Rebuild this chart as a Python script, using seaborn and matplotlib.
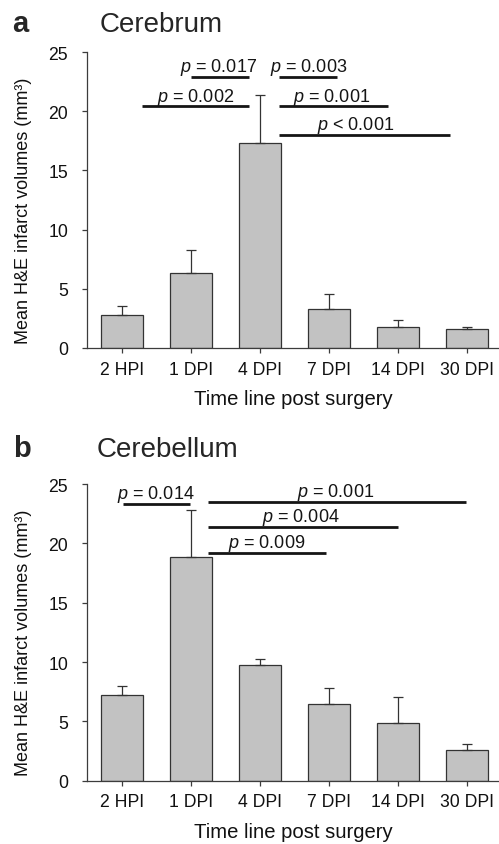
import matplotlib
matplotlib.use("Agg")
import matplotlib.pyplot as plt
import seaborn as sns
import numpy as np
import pandas as pd

# data
timepoints = ["2 HPI", "1 DPI", "4 DPI", "7 DPI", "14 DPI", "30 DPI"]

cerebrum_mean = [2.79, 6.30, 17.35, 3.30, 1.80, 1.60]
cerebrum_err = [0.78, 1.95, 4.00, 1.23, 0.54, 0.15]

cerebellum_mean = [7.22, 18.87, 9.72, 6.43, 4.89, 2.61]
cerebellum_err = [0.76, 3.93, 0.51, 1.35, 2.13, 0.51]

# significance bars: (x start, x end, y, label, label x)
cerebrum_sig = [
    (1.00, 1.84, 22.86, "$p$ = 0.017", 1.40),
    (0.29, 1.84, 20.40, "$p$ = 0.002", 1.07),
    (2.28, 3.12, 22.86, "$p$ = 0.003", 2.70),
    (2.28, 3.86, 20.40, "$p$ = 0.001", 3.04),
    (2.28, 4.75, 17.99, "$p$ < 0.001", 3.38),
]
cerebellum_sig = [
    (0.01, 0.99, 23.34, "$p$ = 0.014", 0.49),
    (1.24, 4.99, 23.45, "$p$ = 0.001", 3.10),
    (1.24, 4.00, 21.37, "$p$ = 0.004", 2.59),
    (1.24, 2.96, 19.21, "$p$ = 0.009", 2.09),
]

sns.set_style("ticks")
plt.rcParams["font.family"] = ["Liberation Sans", "DejaVu Sans"]
plt.rcParams["mathtext.fontset"] = "custom"
plt.rcParams["mathtext.rm"] = "Liberation Sans"
plt.rcParams["mathtext.it"] = "Liberation Sans:italic"

W, H = 499, 845
fig = plt.figure(figsize=(W / 100, H / 100), dpi=100)

spine_col = "#3c3c3c"


def draw_panel(ax, means, errs, sigs):
    df = pd.DataFrame({"time": timepoints, "volume": means})
    sns.barplot(data=df, x="time", y="volume", color="#c2c2c2",
                saturation=1, edgecolor="#333333", linewidth=0.9,
                width=0.6, errorbar=None, ax=ax)
    pos = np.arange(len(timepoints))
    ax.errorbar(pos, means, yerr=[np.zeros(len(errs)), errs], fmt="none",
                ecolor="#333333", elinewidth=0.9, capsize=3.4, capthick=0.9)
    for x0, x1, y, lab, tx in sigs:
        ax.plot([x0, x1], [y, y], color="#151515", lw=2.0, solid_capstyle="butt")
        ax.text(tx, y + 0.5, lab, ha="center", va="baseline", fontsize=13,
                color="#151515")
    ax.set_xlim(-0.507, 5.464)
    ax.set_ylim(0, 25)
    ax.set_yticks([0, 5, 10, 15, 20, 25])
    sns.despine(ax=ax)
    for s in ("left", "bottom"):
        ax.spines[s].set_color(spine_col)
        ax.spines[s].set_linewidth(0.9)
    ax.tick_params(axis="y", length=3.6, width=0.9, color=spine_col,
                   pad=10, labelsize=12.7, labelcolor="#111111")
    ax.tick_params(axis="x", length=3.6, width=0.9, color=spine_col,
                   pad=5.5, labelsize=12.7, labelcolor="#111111")
    ax.set_xlabel("Time line post surgery", fontsize=14.6, color="#111111")
    ax.xaxis.set_label_coords(0.5, -51 / 296)
    ax.xaxis.label.set_verticalalignment("center")
    ax.set_ylabel("Mean H&E infarct volumes (mm³)", fontsize=13, color="#111111")
    ax.yaxis.set_label_coords(-64 / 412, 0.468)
    ax.yaxis.label.set_verticalalignment("center")


ax_a = fig.add_axes([87 / W, 1 - 349 / H, 412 / W, 296 / H])
draw_panel(ax_a, cerebrum_mean, cerebrum_err, cerebrum_sig)

ax_b = fig.add_axes([87 / W, 1 - 781.7 / H, 412 / W, 296.7 / H])
draw_panel(ax_b, cerebellum_mean, cerebellum_err, cerebellum_sig)

fig.text(12 / W, 1 - 32 / H, "a", fontsize=21, fontweight="bold", va="baseline")
fig.text(100 / W, 1 - 32 / H, "Cerebrum", fontsize=20, va="baseline")
fig.text(13 / W, 1 - 457 / H, "b", fontsize=21, fontweight="bold", va="baseline")
fig.text(97 / W, 1 - 457 / H, "Cerebellum", fontsize=20, va="baseline")

fig.savefig("out.png", dpi=100)
